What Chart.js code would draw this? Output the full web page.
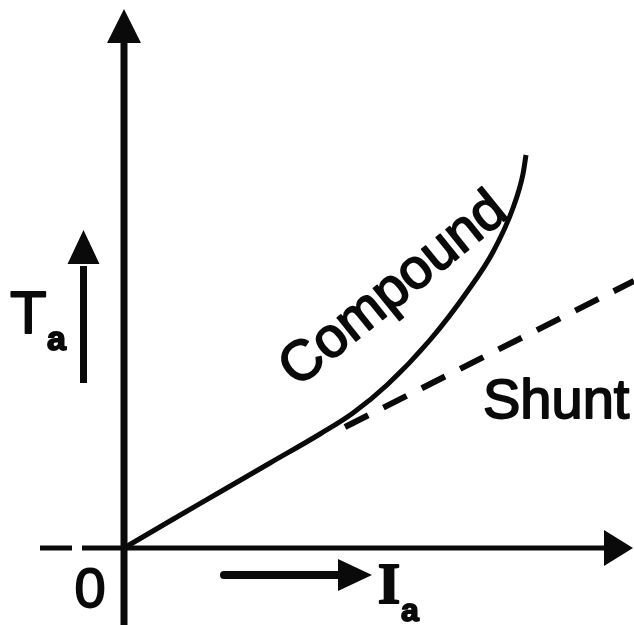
<!DOCTYPE html>
<html>
<head>
<meta charset="utf-8">
<script src="https://cdn.jsdelivr.net/npm/chart.js@4"></script>
<style>
html,body{margin:0;padding:0;background:#fff;}
#wrap{width:634px;height:625px;position:relative;}
</style>
</head>
<body>
<div id="wrap"><canvas id="c"></canvas></div>
<script>
// ---- data (arbitrary units: torque vs armature current) ----
const compoundX = [0, 0.92, 1.92, 2.92, 3.92, 4.58, 5.26, 6.12, 6.86, 7.38, 7.78, 7.98, 8.04];
const compoundY = [0, 0.54, 1.12, 1.70, 2.28, 2.70, 3.26, 4.16, 5.12, 5.92, 6.80, 7.48, 7.86];
const shuntX = [4.42, 10.2];
const shuntY = [2.42, 5.34];
const seriesNames = ['Compound', 'Shunt'];
const yAxisLabel = ['T', 'a'];
const xAxisLabel = ['I', 'a'];
const originLabel = '0';

const toPts = (xs, ys) => xs.map((x, i) => ({x: x, y: ys[i]}));

const INK = '#0a0a0a';

function arrowHead(ctx, tipX, tipY, dir, len, half) {
  ctx.beginPath();
  if (dir === 'up') {
    ctx.moveTo(tipX, tipY);
    ctx.lineTo(tipX - half, tipY + len);
    ctx.lineTo(tipX + half, tipY + len);
  } else {
    ctx.moveTo(tipX, tipY);
    ctx.lineTo(tipX - len, tipY - half);
    ctx.lineTo(tipX - len, tipY + half);
  }
  ctx.closePath();
  ctx.fill();
}

function txt(ctx, s, x, y, font, align, base) {
  ctx.font = font;
  ctx.textAlign = align || 'left';
  ctx.textBaseline = base || 'alphabetic';
  ctx.fillText(s, x, y);
  ctx.strokeText(s, x, y);
}

const sketchPlugin = {
  id: 'sketch',
  beforeDatasetsDraw(chart) {
    const ctx = chart.ctx;
    const xs = chart.scales.x, ys = chart.scales.y;
    const ox = xs.getPixelForValue(0), oy = ys.getPixelForValue(0);
    const ca = chart.chartArea;
    ctx.save();
    ctx.strokeStyle = INK; ctx.fillStyle = INK; ctx.lineCap = 'butt';
    // y axis
    ctx.lineWidth = 7;
    ctx.beginPath(); ctx.moveTo(ox, ca.bottom); ctx.lineTo(ox, ca.top + 40); ctx.stroke();
    arrowHead(ctx, ox, ca.top + 9, 'up', 34, 17);
    // x axis
    ctx.lineWidth = 5;
    ctx.beginPath(); ctx.moveTo(ox - 42, oy); ctx.lineTo(ca.right - 30, oy); ctx.stroke();
    ctx.beginPath(); ctx.moveTo(ox - 84, oy); ctx.lineTo(ox - 52, oy); ctx.stroke();
    arrowHead(ctx, ca.right - 1, oy, 'right', 29, 18);
    ctx.restore();
  },
  afterDatasetsDraw(chart) {
    const ctx = chart.ctx;
    const xs = chart.scales.x, ys = chart.scales.y;
    const ox = xs.getPixelForValue(0), oy = ys.getPixelForValue(0);
    ctx.save();
    ctx.strokeStyle = INK; ctx.fillStyle = INK;
    // T_a arrow
    ctx.lineWidth = 7;
    ctx.beginPath(); ctx.moveTo(ox - 40.5, oy - 165); ctx.lineTo(ox - 40.5, oy - 282); ctx.stroke();
    arrowHead(ctx, ox - 40.5, oy - 318, 'up', 34, 16);
    // I_a arrow
    ctx.lineWidth = 8;
    ctx.lineCap = 'round';
    ctx.beginPath(); ctx.moveTo(ox + 100, oy + 27); ctx.lineTo(ox + 218, oy + 27); ctx.stroke();
    ctx.lineCap = 'butt';
    arrowHead(ctx, ox + 248, oy + 27, 'right', 34, 16);

    ctx.lineWidth = 1.8;
    ctx.lineJoin = 'round';
    // labels
    txt(ctx, yAxisLabel[0], ox - 114, oy - 215, '60px "Liberation Sans", Arial, sans-serif');
    txt(ctx, yAxisLabel[1], ox - 77, oy - 198, 'bold 34px "Liberation Sans", Arial, sans-serif');
    txt(ctx, originLabel, ox - 34, oy + 59, '56px "Liberation Sans", Arial, sans-serif', 'center');
    txt(ctx, xAxisLabel[0], ox + 265, oy + 55, 'bold 58px "Liberation Serif", "Times New Roman", serif', 'center');
    txt(ctx, xAxisLabel[1], ox + 277, oy + 73, 'bold 32px "Liberation Sans", Arial, sans-serif');
    txt(ctx, seriesNames[1], xs.getPixelForValue(7.18), ys.getPixelForValue(2.6), '56px "Liberation Sans", Arial, sans-serif');
    // Compound label, rotated along curve
    ctx.save();
    ctx.translate(xs.getPixelForValue(5.4), ys.getPixelForValue(5.16));
    ctx.rotate(-39 * Math.PI / 180);
    txt(ctx, seriesNames[0], 0, 0, '56px "Liberation Sans", Arial, sans-serif', 'center', 'middle');
    ctx.restore();
    ctx.restore();
  }
};

new Chart(document.getElementById('c'), {
  type: 'scatter',
  data: {
    datasets: [
      {
        label: seriesNames[0],
        data: toPts(compoundX, compoundY),
        showLine: true,
        borderColor: INK,
        borderWidth: 5,
        pointRadius: 0,
        cubicInterpolationMode: 'monotone',
        fill: false
      },
      {
        label: seriesNames[1],
        data: toPts(shuntX, shuntY),
        showLine: true,
        borderColor: INK,
        borderWidth: 6,
        borderDash: [26, 17],
        pointRadius: 0,
        fill: false
      }
    ]
  },
  options: {
    responsive: true,
    maintainAspectRatio: false,
    animation: false,
    layout: { padding: 0 },
    plugins: { legend: { display: false }, tooltip: { enabled: false } },
    scales: {
      x: { type: 'linear', min: -2.48, max: 10.2, display: false },
      y: { type: 'linear', min: -1.54, max: 10.96, display: false }
    }
  },
  plugins: [sketchPlugin]
});
</script>
</body>
</html>
